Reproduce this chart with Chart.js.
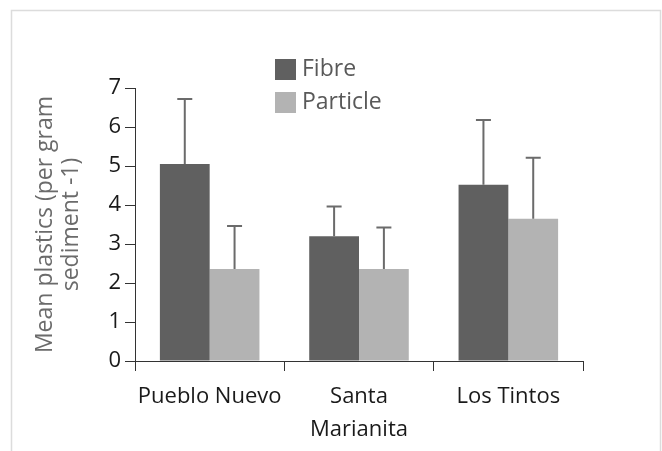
<!DOCTYPE html>
<html lang="en">
<head>
    <meta charset="UTF-8">
    <title>Mean plastics</title>
    <script src="https://cdn.jsdelivr.net/npm/chart.js"></script>
    <style>
        html, body {
            margin: 0;
            padding: 0;
            background: #fff;
        }
        #wrap {
            width: 662px;
            height: 451px;
        }
    </style>
</head>
<body>
    <div id="wrap"><canvas id="plasticsChart" width="662" height="451"></canvas></div>

    <script>
        const sites = ['Pueblo Nuevo', ['Santa', 'Marianita'], 'Los Tintos'];
        const fibre = [5.05, 3.2, 4.52];
        const fibreErr = [1.67, 0.76, 1.66];
        const particle = [2.36, 2.36, 3.65];
        const particleErr = [1.1, 1.06, 1.56];
        const yTicks = [0, 1, 2, 3, 4, 5, 6, 7];

        const FONT = '"Open Sans", "DejaVu Sans", sans-serif';

        // light grey frame round the whole figure
        const framePlugin = {
            id: 'frame',
            beforeDraw(chart) {
                const c = chart.ctx;
                c.save();
                c.strokeStyle = '#dcdcdc';
                c.lineWidth = 1.5;
                c.strokeRect(11.5, 10.5, 649, 460);
                c.restore();
            }
        };

        // upper error bars only
        const errorBarPlugin = {
            id: 'errorBars',
            afterDatasetsDraw(chart) {
                const c = chart.ctx;
                const y = chart.scales.y;
                c.save();
                c.strokeStyle = '#6b6b6b';
                c.lineWidth = 2;
                chart.data.datasets.forEach((ds, i) => {
                    const meta = chart.getDatasetMeta(i);
                    meta.data.forEach((bar, j) => {
                        const top = y.getPixelForValue(ds.data[j] + ds.errors[j]);
                        c.beginPath();
                        c.moveTo(bar.x, bar.y);
                        c.lineTo(bar.x, top);
                        c.moveTo(bar.x - 7.5, top);
                        c.lineTo(bar.x + 7.5, top);
                        c.stroke();
                    });
                });
                c.restore();
            }
        };

        // legend drawn inside the plot, stacked vertically
        const legendPlugin = {
            id: 'boxLegend',
            afterDraw(chart) {
                const c = chart.ctx;
                c.save();
                c.font = '23px ' + FONT;
                c.textBaseline = 'middle';
                chart.data.datasets.forEach((ds, i) => {
                    const top = 59 + i * 33;
                    c.fillStyle = ds.backgroundColor;
                    c.fillRect(275, top, 21, 21);
                    c.fillStyle = '#595959';
                    c.fillText(ds.label, 302, top + 10);
                });
                c.restore();
            }
        };

        const ctx = document.getElementById('plasticsChart').getContext('2d');
        const plasticsChart = new Chart(ctx, {
            type: 'bar',
            data: {
                labels: sites,
                datasets: [{
                    label: 'Fibre',
                    data: fibre,
                    errors: fibreErr,
                    backgroundColor: '#606060'
                }, {
                    label: 'Particle',
                    data: particle,
                    errors: particleErr,
                    backgroundColor: '#b3b3b3'
                }]
            },
            options: {
                responsive: false,
                animation: false,
                layout: {
                    padding: { left: 0, right: 79, top: 88, bottom: 0 }
                },
                datasets: {
                    bar: {
                        categoryPercentage: 2 / 3,
                        barPercentage: 1
                    }
                },
                scales: {
                    x: {
                        afterFit(scale) { scale.height = 90; },
                        grid: {
                            drawOnChartArea: false,
                            drawTicks: true,
                            tickLength: 10,
                            color: '#333',
                            offset: true
                        },
                        border: { color: '#333', width: 1 },
                        ticks: {
                            color: '#1a1a1a',
                            padding: 9,
                            autoSkip: false,
                            maxRotation: 0,
                            minRotation: 0,
                            font: { family: FONT, size: 22, lineHeight: 1.5 }
                        }
                    },
                    y: {
                        min: 0,
                        max: 7,
                        afterFit(scale) { scale.width = 135; },
                        afterBuildTicks(scale) {
                            scale.ticks = yTicks.map(v => ({ value: v }));
                        },
                        grid: {
                            drawOnChartArea: false,
                            drawTicks: true,
                            tickLength: 10,
                            color: '#333'
                        },
                        border: { color: '#333', width: 1 },
                        ticks: {
                            color: '#1a1a1a',
                            padding: 4,
                            font: { family: FONT, size: 22 }
                        },
                        title: {
                            display: true,
                            text: ['Mean plastics (per gram', 'sediment -1)'],
                            color: '#6b6b6b',
                            padding: { top: 32, bottom: 0 },
                            font: { family: FONT, size: 23, lineHeight: 1.13 }
                        }
                    }
                },
                plugins: {
                    legend: { display: false },
                    tooltip: { enabled: false }
                }
            },
            plugins: [framePlugin, errorBarPlugin, legendPlugin]
        });
    </script>
</body>
</html>
